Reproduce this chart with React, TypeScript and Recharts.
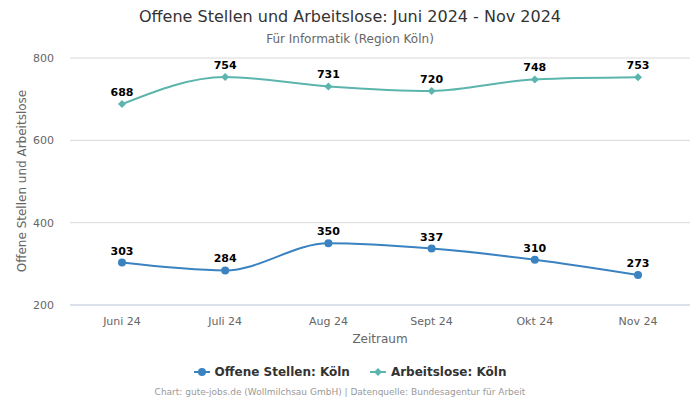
import { LineChart, Line, XAxis, YAxis, CartesianGrid, LabelList } from 'recharts';

const months = ['Juni 24', 'Juli 24', 'Aug 24', 'Sept 24', 'Okt 24', 'Nov 24'];
const offeneStellen = [303, 284, 350, 337, 310, 273];
const arbeitslose = [688, 754, 731, 720, 748, 753];
const yTicks = [200, 400, 600, 800];

const data = months.map((m, i) => ({
  name: m,
  offen: offeneStellen[i],
  arbeitslos: arbeitslose[i],
}));

const BLUE = '#3a83c0';
const TEAL = '#5bb5ad';
const FONT = '"DejaVu Sans", sans-serif';

const Diamond = (props: any) => {
  const { cx, cy } = props;
  if (cx == null || cy == null) return null;
  const r = 4;
  return <path d={`M${cx},${cy - r}L${cx + r},${cy}L${cx},${cy + r}L${cx - r},${cy}Z`} fill={TEAL} />;
};

export default function App() {
  return (
    <div style={{ position: 'absolute', left: 0, top: 0, width: 700, height: 400, background: '#fff', fontFamily: FONT }}>
      <div style={{ position: 'absolute', top: 7, width: 700, textAlign: 'center', fontSize: 16, color: '#333' }}>
        Offene Stellen und Arbeitslose: Juni 2024 - Nov 2024
      </div>
      <div style={{ position: 'absolute', top: 32, width: 700, textAlign: 'center', fontSize: 12, color: '#666' }}>
        Für Informatik (Region Köln)
      </div>
      <div
        style={{
          position: 'absolute', left: 22, top: 181, width: 300, marginLeft: -150, marginTop: -8,
          textAlign: 'center', fontSize: 12, color: '#666', transform: 'rotate(-90deg)', lineHeight: '16px',
        }}
      >
        Offene Stellen und Arbeitslose
      </div>
      <LineChart width={700} height={400} data={data} margin={{ top: 58, right: 10, bottom: 65, left: 10 }}>
        <CartesianGrid vertical={false} stroke="#d8d8d8" />
        <XAxis
          dataKey="name"
          padding={{ left: 52, right: 52 }}
          tickLine={false}
          axisLine={{ stroke: '#ccd6eb' }}
          tick={{ fill: '#666', fontSize: 11, fontFamily: FONT }}
          tickMargin={6}
        />
        <YAxis
          domain={[200, 800]}
          ticks={yTicks}
          width={60}
          tickLine={false}
          axisLine={false}
          tick={{ fill: '#666', fontSize: 11, fontFamily: FONT }}
          tickMargin={10}
        />
        <Line
          type="monotone"
          dataKey="offen"
          stroke={BLUE}
          strokeWidth={2}
          dot={{ r: 4, fill: BLUE, stroke: BLUE, strokeWidth: 0 }}
          activeDot={false}
          isAnimationActive={false}
        >
          <LabelList dataKey="offen" position="top" offset={8} fill="#000" fontSize={11} fontWeight="bold" fontFamily={FONT} />
        </Line>
        <Line
          type="monotone"
          dataKey="arbeitslos"
          stroke={TEAL}
          strokeWidth={2}
          dot={<Diamond />}
          activeDot={false}
          isAnimationActive={false}
        >
          <LabelList dataKey="arbeitslos" position="top" offset={8} fill="#000" fontSize={11} fontWeight="bold" fontFamily={FONT} />
        </Line>
      </LineChart>
      <div style={{ position: 'absolute', top: 332, left: 280, width: 200, textAlign: 'center', fontSize: 12, color: '#666' }}>
        Zeitraum
      </div>
      <div style={{ position: 'absolute', top: 365, width: 700, display: 'flex', justifyContent: 'center', gap: 20, fontSize: 12, fontWeight: 'bold', color: '#333' }}>
        <span style={{ display: 'flex', alignItems: 'center' }}>
          <svg width={16} height={10} style={{ marginRight: 5 }}>
            <line x1={0} y1={5} x2={16} y2={5} stroke={BLUE} strokeWidth={2} />
            <circle cx={8} cy={5} r={4} fill={BLUE} />
          </svg>
          Offene Stellen: Köln
        </span>
        <span style={{ display: 'flex', alignItems: 'center' }}>
          <svg width={16} height={10} style={{ marginRight: 5 }}>
            <line x1={0} y1={5} x2={16} y2={5} stroke={TEAL} strokeWidth={2} />
            <path d="M8,1L12,5L8,9L4,5Z" fill={TEAL} />
          </svg>
          Arbeitslose: Köln
        </span>
      </div>
      <div style={{ position: 'absolute', top: 387, left: -10, width: 700, textAlign: 'center', fontSize: 9, color: '#999' }}>
        Chart: gute-jobs.de (Wollmilchsau GmbH) | Datenquelle: Bundesagentur für Arbeit
      </div>
    </div>
  );
}
